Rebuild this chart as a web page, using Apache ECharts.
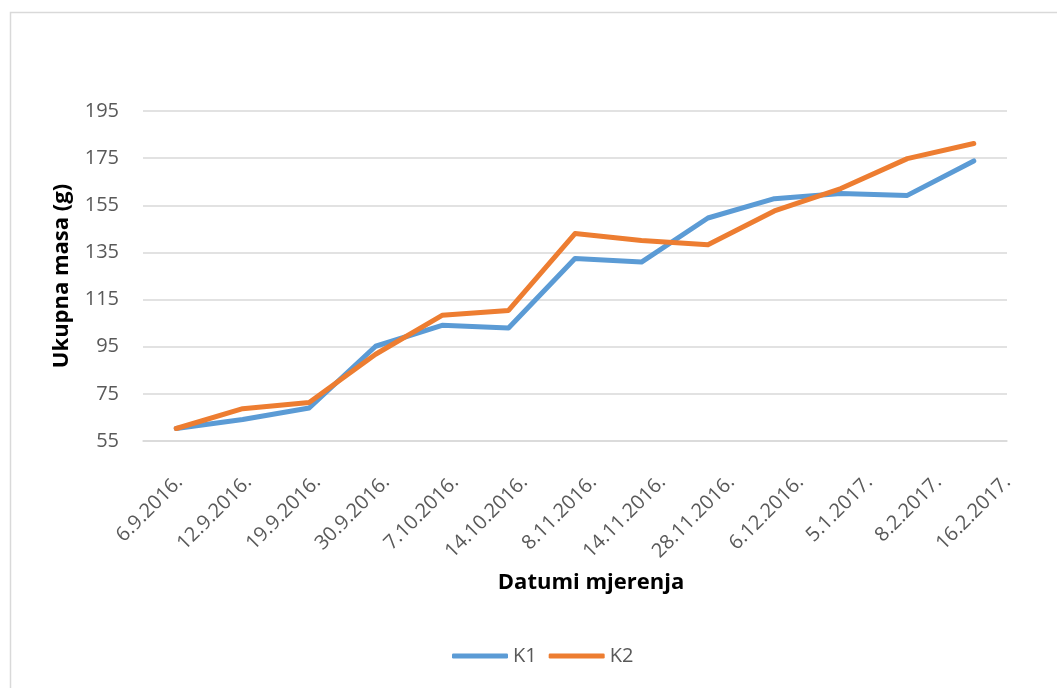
<!DOCTYPE html>
<html>
<head>
<meta charset="utf-8">
<script src="https://cdn.jsdelivr.net/npm/echarts@6/dist/echarts.min.js"></script>
<style>
html,body{margin:0;padding:0;background:#fff;}
#chart{width:1057px;height:688px;}
</style>
</head>
<body>
<div id="chart"></div>
<script>
const categories = ['6.9.2016.','12.9.2016.','19.9.2016.','30.9.2016.','7.10.2016.','14.10.2016.','8.11.2016.','14.11.2016.','28.11.2016.','6.12.2016.','5.1.2017.','8.2.2017.','16.2.2017.'];
const k1 = [60.3, 64.1, 69.0, 95.2, 104.1, 102.9, 132.4, 130.9, 149.6, 157.8, 160.0, 159.2, 173.8];
const k2 = [60.3, 68.7, 71.3, 91.8, 108.3, 110.4, 143.0, 140.1, 138.3, 152.6, 162.1, 174.8, 181.2];
const seriesNames = ['K1', 'K2'];
const yTitle = 'Ukupna masa (g)';
const xTitle = 'Datumi mjerenja';

const FONT = 'Open Sans';
const chart = echarts.init(document.getElementById('chart'), null, {renderer: 'canvas'});
chart.setOption({
  animation: false,
  backgroundColor: '#fff',
  textStyle: {fontFamily: FONT},
  grid: [
    {left: 143, right: 50, top: 111, bottom: 247, containLabel: false},
    {left: 145, right: 15, top: 111, bottom: 247, containLabel: false}
  ],
  graphic: [
    {type: 'rect', shape: {x: 10.5, y: 12.5, width: 1100, height: 700}, style: {fill: 'none', stroke: '#d9d9d9', lineWidth: 1.5}, silent: true},
    {type: 'text', x: 62, y: 276, rotation: Math.PI / 2, style: {text: yTitle, font: 'bold 22px "Open Sans"', fill: '#000', align: 'center', verticalAlign: 'middle'}},
    {type: 'text', x: 591, y: 583, style: {text: xTitle, font: 'bold 22px "Open Sans"', fill: '#000', align: 'center', verticalAlign: 'middle'}}
  ],
  legend: {
    data: seriesNames,
    left: 447, top: 641,
    itemWidth: 56, itemHeight: 5, itemGap: 12,
    icon: 'roundRect',
    textStyle: {color: '#595959', fontSize: 20, fontFamily: FONT}
  },
  xAxis: [
    {
      type: 'category',
      gridIndex: 0,
      data: categories,
      boundaryGap: true,
      axisLine: {lineStyle: {color: '#d9d9d9', width: 1.5}},
      axisTick: {show: false},
      axisLabel: {show: false}
    },
    {
      type: 'category',
      gridIndex: 1,
      data: categories,
      boundaryGap: true,
      axisLine: {show: false},
      axisTick: {show: false},
      splitLine: {show: false},
      axisLabel: {rotate: 45, color: '#595959', fontSize: 20, fontFamily: FONT, margin: 38, interval: 0}
    }
  ],
  yAxis: [
    {
      type: 'value',
      gridIndex: 0,
      min: 55, max: 195, interval: 20,
      axisLine: {show: false},
      axisTick: {show: false},
      axisLabel: {color: '#595959', fontSize: 20, fontFamily: FONT, margin: 24},
      splitLine: {lineStyle: {color: '#d9d9d9', width: 1.5}}
    },
    {
      type: 'value',
      gridIndex: 1,
      min: 55, max: 195,
      show: false,
      splitLine: {show: false}
    }
  ],
  series: [
    {name: seriesNames[0], type: 'line', xAxisIndex: 0, yAxisIndex: 0, data: k1, symbol: 'none', lineStyle: {color: '#5b9bd5', width: 5, cap: 'round', join: 'round'}, itemStyle: {color: '#5b9bd5'}},
    {name: seriesNames[1], type: 'line', xAxisIndex: 0, yAxisIndex: 0, data: k2, symbol: 'none', lineStyle: {color: '#ed7d31', width: 5, cap: 'round', join: 'round'}, itemStyle: {color: '#ed7d31'}}
  ]
});
</script>
</body>
</html>
